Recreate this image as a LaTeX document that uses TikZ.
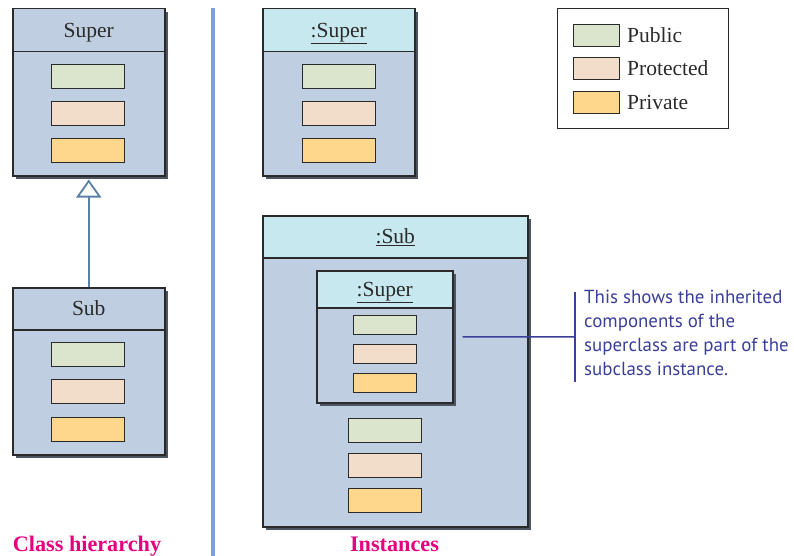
\documentclass[tikz,border=0pt]{standalone}
\usepackage{fontspec}
\setmainfont{Liberation Serif}
\newfontfamily\annfont{PT Sans}
\usetikzlibrary{shadows,calc,arrows.meta}
\definecolor{boxbg}{HTML}{BFCFE1}
\definecolor{hdrcyan}{HTML}{C8E8F0}
\definecolor{pubc}{HTML}{DBE5CD}
\definecolor{protc}{HTML}{F2DDCA}
\definecolor{privc}{HTML}{FED78D}
\definecolor{edgec}{HTML}{2A2A2A}
\definecolor{shadc}{HTML}{4E5562}
\definecolor{inhc}{HTML}{5A7FA8}
\definecolor{sepc}{HTML}{7FA0D6}
\definecolor{notec}{HTML}{3A3F9A}
\definecolor{capc}{HTML}{E6007E}
\tikzset{
  objbox/.style={draw=edgec, fill=boxbg, line width=1.5pt, inner sep=0pt, anchor=north west,
    drop shadow={shadow xshift=3pt, shadow yshift=-3pt, fill=shadc, opacity=1}},
  hdr/.style={draw=edgec, line width=1.5pt, inner sep=0pt, anchor=north west,
    text height=18pt, text depth=4pt,
    font=\fontsize{21.5}{25}\selectfont, text=edgec},
  clshdr/.style={hdr, fill=boxbg},
  insthdr/.style={hdr, fill=hdrcyan},
  field/.style={draw=edgec, line width=1.1pt, inner sep=0pt, anchor=north west},
  pubf/.style={field, fill=pubc},
  protf/.style={field, fill=protc},
  privf/.style={field, fill=privc},
  big/.style={minimum width=73pt, minimum height=24pt},
  small/.style={minimum width=63pt, minimum height=19pt},
  legtxt/.style={anchor=west, inner sep=0pt, font=\fontsize{21.5}{25}\selectfont, text=edgec},
  caption/.style={font=\fontsize{22.2}{25}\selectfont\bfseries, text=capc, inner sep=0pt, anchor=base},
}
\begin{document}
\begin{tikzpicture}[x=1pt,y=-1pt]
\useasboundingbox (0,0) rectangle (794,556);

% separator
\draw[sepc, line width=4pt] (213,8) -- (213,556);

% ---- Class Super
\node[objbox, minimum width=152pt, minimum height=167pt] (csuper) at (12,8) {};
\node[clshdr, minimum width=152pt, minimum height=43pt] (csuperh) at (12,8) {Super};
\node[pubf, big] (cs1) at (51,64) {};
\node[protf, big] (cs2) at (51,101) {};
\node[privf, big] (cs3) at (51,138) {};

% ---- Class Sub
\node[objbox, minimum width=152pt, minimum height=167pt] (csub) at (12,287) {};
\node[clshdr, minimum width=152pt, minimum height=42pt] (csubh) at (12,287) {Sub};
\node[pubf, big] (cb1) at (51,342) {};
\node[protf, big] (cb2) at (51,379) {};
\node[privf, big] (cb3) at (51,417) {};

% inheritance
\draw[inhc, line width=1.8pt, shorten >=3pt, -{Triangle[open, length=18pt, width=25pt, line width=1.8pt]}]
  (csub.north) -- (csuper.south);

\node[caption] (cap1) at (87,551) {Class hierarchy};

% ---- Instance :Super
\node[objbox, minimum width=152pt, minimum height=167pt] (isuper) at (262,8) {};
\node[insthdr, minimum width=152pt, minimum height=43pt] (isuperh) at (262,8) {\underline{:Super}};
\node[pubf, big] (is1) at (302,64) {};
\node[protf, big] (is2) at (302,101) {};
\node[privf, big] (is3) at (302,138) {};

% ---- Instance :Sub
\node[objbox, minimum width=265pt, minimum height=311pt] (isub) at (262,215) {};
\node[insthdr, minimum width=265pt, minimum height=42pt] (isubh) at (262,215) {\underline{:Sub}};
\node[objbox, minimum width=136pt, minimum height=132pt] (inner) at (316,270) {};
\node[insthdr, minimum width=136pt, minimum height=37pt] (innerh) at (316,270) {\underline{:Super}};
\node[pubf, small] (in1) at (353,315) {};
\node[protf, small] (in2) at (353,344) {};
\node[privf, small] (in3) at (353,373) {};
\node[pubf, big] (ib1) at (348,418) {};
\node[protf, big] (ib2) at (348,453) {};
\node[privf, big] (ib3) at (348,488) {};

\node[caption] (cap2) at (394.5,551) {Instances};

% ---- Legend
\node[draw=edgec, line width=0.8pt, fill=white, minimum width=171pt, minimum height=120pt, inner sep=0pt, anchor=north west] (legend) at (557,8) {};
\node[pubf, minimum width=46pt, minimum height=22pt] (lg1) at (573,24) {};
\node[protf, minimum width=46pt, minimum height=22pt] (lg2) at (573,57) {};
\node[privf, minimum width=46pt, minimum height=22pt] (lg3) at (573,91) {};
\node[legtxt] (lt1) at (627,35) {Public};
\node[legtxt] (lt2) at (627,68) {Protected};
\node[legtxt] (lt3) at (627,102) {Private};

% ---- Annotation
\coordinate (brk) at (575,337);
\coordinate (brktop) at (575,292);
\coordinate (brkbot) at (575,382);
\draw[notec, line width=1.5pt] (brktop) -- (brkbot);
\draw[notec, line width=1.5pt] ([xshift=9pt]inner.east) -- (brk);
\node[anchor=north west, inner sep=0pt, align=left, text=notec,
  font=\annfont\fontsize{18.9}{24}\selectfont] (note) at (584,290)
  {This shows the inherited\\components of the\\superclass are part of the\\subclass instance.};
\end{tikzpicture}
\end{document}
